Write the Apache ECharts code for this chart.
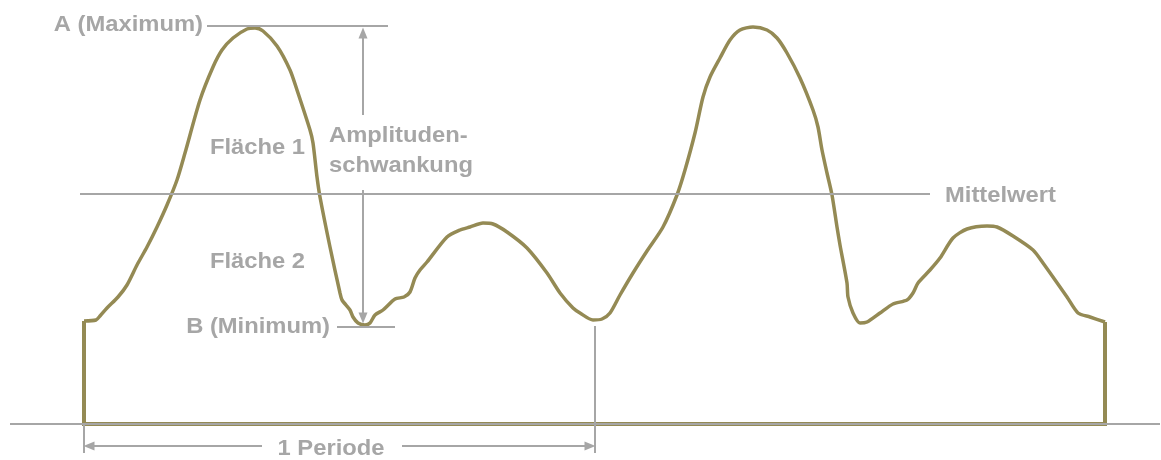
<!DOCTYPE html>
<html>
<head>
<meta charset="utf-8">
<title>Periode</title>
<script src="https://cdn.jsdelivr.net/npm/echarts@6/dist/echarts.min.js"></script>
<style>
html, body { margin: 0; padding: 0; background: #fff; }
#chart { width: 1161px; height: 460px; }
</style>
</head>
<body>
<div id="chart"></div>
<script>
// Kurvenverlauf: x-Position und Höhe über der Nulllinie
var curveX = [84, 96, 100, 107, 118, 127, 137, 147, 157, 167, 177, 185, 200, 213, 222, 233, 247, 255, 263, 277,
  290, 297, 310, 313, 317, 320, 330, 340, 342, 350, 353, 358, 365, 370, 375, 383, 395, 404, 410, 415,
  420, 427, 447, 460, 470, 483, 493, 507, 527, 547, 560, 573, 580, 593, 602, 610, 620, 633, 647, 663,
  677, 685, 695, 703, 710, 720, 730, 740, 753, 767, 777, 787, 800, 813, 818, 822, 827, 832, 837, 840,
  847, 848, 853, 860, 867, 880, 893, 907, 913, 918, 930, 940, 953, 967, 987, 997, 1013, 1033, 1043, 1067,
  1078, 1090, 1105]
var curveY = [103, 104, 108, 116, 127, 139, 159, 177, 197, 219, 244, 271, 324, 357, 374, 386, 395, 396, 393, 378,
  354, 334, 294, 281, 247, 227, 177, 131, 124, 114, 107, 101, 99, 101, 109, 114, 125, 127, 132, 146,
  154, 162, 187, 194, 197, 201, 200, 192, 176, 151, 131, 116, 111, 104, 105, 111, 129, 151, 173, 197,
  229, 254, 291, 327, 347, 366, 384, 394, 397, 394, 386, 371, 346, 314, 297, 274, 251, 229, 197, 179,
  141, 127, 111, 101, 102, 111, 120, 124, 131, 141, 154, 166, 186, 195, 198, 197, 188, 174, 161, 127,
  111, 107, 102]

var maxValue = 398      // A (Maximum)
var minValue = 97       // B (Minimum)
var meanValue = 230     // Mittelwert
var periodStart = 84
var periodEnd = 595
var ampX = 363

var textMax = 'A (Maximum)'
var textMin = 'B (Minimum)'
var textMean = 'Mittelwert'
var textArea1 = 'Fläche 1'
var textArea2 = 'Fläche 2'
var textAmp = ['Amplituden-', 'schwankung']
var textPeriod = '1 Periode'

var olive = '#948A54'
var grey = '#A6A6A6'
var font = '"Liberation Sans", Arial, sans-serif'

var curveData = curveX.map(function (x, i) { return [x, curveY[i]] })
var last = curveData.length - 1
var boxData = [curveData[0], [curveX[0], 0], [curveX[last], 0], curveData[last]]

function seg (x1, y1, x2, y2, s1, s2) {
  return [
    { coord: [x1, y1], symbol: s1 || 'none' },
    { coord: [x2, y2], symbol: s2 || 'none' }
  ]
}

// Beschriftung etwas breiter gezogen wie im Original
function txt (str, x, y, align) {
  return {
    type: 'text',
    x: x,
    y: y,
    scaleX: 1.08,
    style: {
      text: str,
      fill: grey,
      font: 'bold 22px ' + font,
      align: align || 'left',
      verticalAlign: 'middle'
    },
    z: 10
  }
}

var chart = echarts.init(document.getElementById('chart'))
chart.setOption({
  animation: false,
  grid: { left: 0, right: 0, top: 0, bottom: 0 },
  xAxis: { type: 'value', min: 0, max: 1161, show: false },
  yAxis: { type: 'value', min: -36, max: 424, show: false },
  series: [
    {
      // graue Hilfslinien und Pfeile
      type: 'line',
      data: [],
      markLine: {
        silent: true,
        animation: false,
        symbolSize: [9, 11],
        label: { show: false },
        lineStyle: { color: grey, width: 2, type: 'solid' },
        emphasis: { disabled: true },
        data: [
          seg(10, 0, 1160, 0),
          seg(80, meanValue, 930, meanValue),
          seg(207, maxValue, 388, maxValue),
          seg(337, minValue, 395, minValue),
          seg(ampX, 309, ampX, maxValue - 7, 'none', 'triangle'),
          seg(ampX, 234, ampX, minValue + 9, 'none', 'triangle'),
          seg(periodEnd, minValue + 1, periodEnd, -29),
          seg(periodStart, 0, periodStart, -29),
          seg(262, -22, periodStart + 5, -22, 'none', 'triangle'),
          seg(402, -22, periodEnd - 5, -22, 'none', 'triangle')
        ]
      }
    },
    {
      type: 'line',
      data: boxData,
      showSymbol: false,
      lineStyle: { color: olive, width: 4, join: 'miter' },
      z: 3
    },
    {
      type: 'line',
      data: curveData,
      smooth: 0.25,
      showSymbol: false,
      lineStyle: { color: olive, width: 3.5 },
      z: 3
    }
  ],
  graphic: [
    txt(textMax, 203, 24.5, 'right'),
    txt(textArea1, 210, 148),
    txt(textArea2, 210, 262),
    txt(textAmp[0], 329, 135.5),
    txt(textAmp[1], 329, 166),
    txt(textMin, 330, 327, 'right'),
    txt(textMean, 945, 195.5),
    txt(textPeriod, 331, 449, 'center')
  ]
})
</script>
</body>
</html>
